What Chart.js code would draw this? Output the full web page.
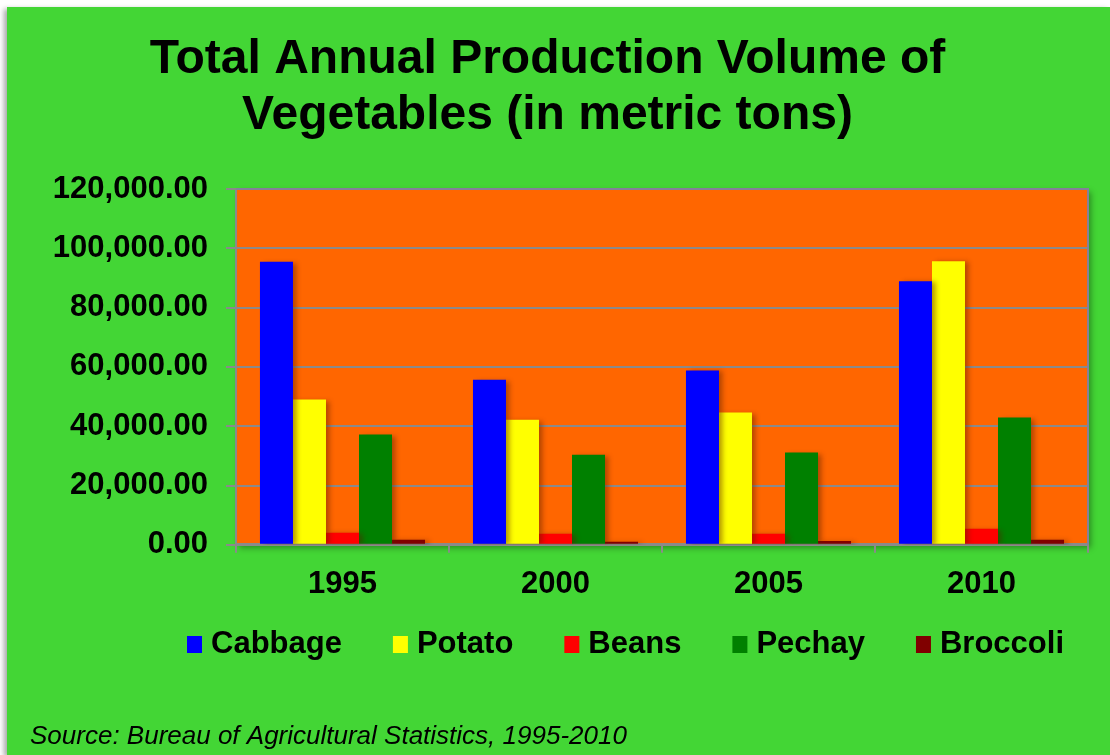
<!DOCTYPE html>
<html>
<head>
<meta charset="utf-8">
<script src="https://cdn.jsdelivr.net/npm/chart.js@4.4.0/dist/chart.umd.min.js"></script>
<style>
    html, body { margin: 0; padding: 0; background: #ffffff; }
    #marco {
        position: absolute; left: 7px; top: 7px;
        width: 1103px; height: 748px;
        background: #43d635;
        box-shadow: -3px 2px 5px rgba(0, 0, 0, 0.35);
    }
    canvas { display: block; }
</style>
</head>
<body>
<div id="marco"><canvas id="graficaVerduras" width="1103" height="748"></canvas></div>
<script>
// Datos (toneladas métricas)
const anios = ['1995', '2000', '2005', '2010'];
const cabbage = [95500, 55700, 58800, 88900];
const potato = [49000, 42200, 44600, 95600];
const beans = [4100, 3700, 3700, 5400];
const pechay = [37200, 30400, 31100, 42900];
const broccoli = [1700, 1000, 1300, 1700];
const ticksEjeY = [0, 20000, 40000, 60000, 80000, 100000, 120000];

const fuente = '"Liberation Sans", Arial, sans-serif';
const gris = '#8a8a8a';

// Fondo naranja del área de trazado con sombra
const fondoArea = {
    id: 'fondoArea',
    beforeDraw(chart) {
        const { ctx, chartArea: a } = chart;
        ctx.save();
        ctx.shadowColor = 'rgba(0, 0, 0, 0.35)';
        ctx.shadowBlur = 6;
        ctx.shadowOffsetX = 3;
        ctx.shadowOffsetY = 3;
        ctx.fillStyle = '#ff6600';
        ctx.fillRect(a.left, a.top, a.width, a.height);
        ctx.restore();
    },
    afterDraw(chart) {
        const { ctx, chartArea: a } = chart;
        ctx.save();
        ctx.strokeStyle = '#85809a';
        ctx.lineWidth = 2;
        ctx.beginPath();
        ctx.moveTo(a.left, a.top);
        ctx.lineTo(a.right, a.top);
        ctx.lineTo(a.right, a.bottom);
        ctx.stroke();
        ctx.restore();
    }
};

// Sombra suave de las barras
const sombraBarras = {
    id: 'sombraBarras',
    beforeDatasetsDraw(chart) {
        const ctx = chart.ctx;
        ctx.save();
        ctx.shadowColor = 'rgba(90, 30, 0, 0.45)';
        ctx.shadowBlur = 5;
        ctx.shadowOffsetX = 4;
        ctx.shadowOffsetY = 1;
    },
    afterDatasetsDraw(chart) {
        chart.ctx.restore();
    }
};

// Leyenda inferior y nota de fuente
const leyenda = {
    id: 'leyenda',
    afterDraw(chart) {
        const ctx = chart.ctx;
        ctx.save();
        ctx.font = 'bold 31px ' + fuente;
        ctx.textBaseline = 'middle';
        let x = 180;
        const y = 637;
        chart.data.datasets.forEach(ds => {
            ctx.fillStyle = ds.backgroundColor;
            ctx.fillRect(x, y - 8, 15, 17);
            ctx.fillStyle = '#000000';
            ctx.fillText(ds.label, x + 24, y);
            x += 24 + ctx.measureText(ds.label).width + 51;
        });

        ctx.font = 'italic 26px ' + fuente;
        ctx.textBaseline = 'alphabetic';
        ctx.fillText('Source: Bureau of Agricultural Statistics, 1995-2010', 23, 737, 607);
        ctx.restore();
    }
};

function inicializarGrafica() {
    const ctx = document.getElementById('graficaVerduras').getContext('2d');
    new Chart(ctx, {
        type: 'bar',
        data: {
            labels: anios,
            datasets: [
                { label: 'Cabbage', data: cabbage, backgroundColor: '#0000ff' },
                { label: 'Potato', data: potato, backgroundColor: '#ffff00' },
                { label: 'Beans', data: beans, backgroundColor: '#ff0000' },
                { label: 'Pechay', data: pechay, backgroundColor: '#008000' },
                { label: 'Broccoli', data: broccoli, backgroundColor: '#800000' }
            ]
        },
        options: {
            responsive: false,
            animation: false,
            devicePixelRatio: 1,
            layout: { padding: { left: 0, right: 22, top: 0, bottom: 139 } },
            datasets: {
                bar: { barPercentage: 1, categoryPercentage: 0.775, borderWidth: 0 }
            },
            plugins: {
                legend: { display: false },
                tooltip: { enabled: false },
                title: {
                    display: true,
                    text: ['Total Annual Production Volume of', 'Vegetables (in metric tons)'],
                    color: '#000000',
                    font: { family: fuente, size: 48, weight: 'bold', lineHeight: 1.1667 },
                    padding: { top: 25, bottom: 45 }
                }
            },
            scales: {
                x: {
                    grid: {
                        display: true,
                        drawOnChartArea: false,
                        drawTicks: true,
                        tickLength: 8,
                        color: gris,
                        lineWidth: 2
                    },
                    border: { display: true, color: gris, width: 3 },
                    ticks: {
                        color: '#000000',
                        padding: 13,
                        font: { family: fuente, size: 31, weight: 'bold' }
                    }
                },
                y: {
                    min: 0,
                    max: 120000,
                    afterBuildTicks: (eje) => {
                        eje.ticks = ticksEjeY.map(v => ({ value: v }));
                    },
                    afterFit: (eje) => { eje.width = 229; },
                    grid: {
                        color: gris,
                        lineWidth: 2,
                        tickLength: 10
                    },
                    border: { display: true, color: gris, width: 2 },
                    ticks: {
                        color: '#000000',
                        padding: 18,
                        font: { family: fuente, size: 31, weight: 'bold' },
                        callback: (v) => Number(v).toLocaleString('en-US', { minimumFractionDigits: 2, maximumFractionDigits: 2 })
                    }
                }
            }
        },
        plugins: [fondoArea, sombraBarras, leyenda]
    });
}

document.addEventListener('DOMContentLoaded', () => {
    inicializarGrafica();
});
</script>
</body>
</html>
